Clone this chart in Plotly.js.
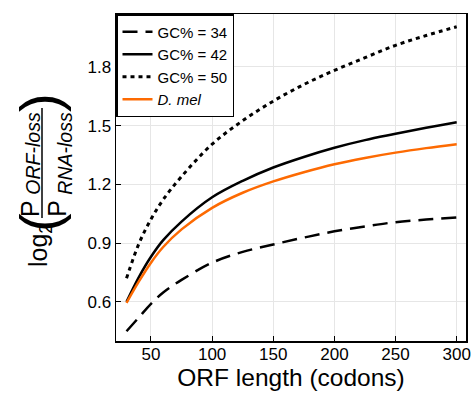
<!DOCTYPE html>
<html>
<head>
<meta charset="utf-8">
<script src="https://cdn.plot.ly/plotly-3.0.1.min.js"></script>
<style>html,body{margin:0;padding:0;background:#fff;}</style>
</head>
<body>
<div id="chart" style="width:474px;height:399px;"></div>
<script>
// ORF length (codons)
const orfLength = [30, 40, 50, 60, 75, 100, 125, 150, 175, 200, 225, 250, 275, 300];
// log2(P_ORF-loss / P_RNA-loss)
const gc34 = [0.45, 0.52, 0.59, 0.648, 0.712, 0.80, 0.855, 0.893, 0.928, 0.96, 0.985, 1.007, 1.02, 1.031];
const gc42 = [0.60, 0.725, 0.83, 0.915, 1.01, 1.134, 1.218, 1.286, 1.34, 1.387, 1.426, 1.458, 1.489, 1.517];
const gc50 = [0.72, 0.895, 1.022, 1.122, 1.24, 1.405, 1.525, 1.625, 1.71, 1.782, 1.847, 1.91, 1.96, 2.005];
const dmel = [0.595, 0.703, 0.80, 0.88, 0.97, 1.08, 1.157, 1.215, 1.262, 1.303, 1.335, 1.362, 1.385, 1.405];
const seriesNames = ['GC% = 34', 'GC% = 42', 'GC% = 50', '<i>D. mel</i>'];
const xTicks = [50, 100, 150, 200, 250, 300];
const yTicks = [0.6, 0.9, 1.2, 1.5, 1.8];

const FONT = 'Liberation Sans, Arial, Helvetica, sans-serif';

const traces = [
  {x: orfLength, y: gc34, name: seriesNames[0], mode: 'lines',
   line: {color: '#000', width: 2.5, dash: '15px,8px', shape: 'spline'}},
  {x: orfLength, y: gc42, name: seriesNames[1], mode: 'lines',
   line: {color: '#000', width: 2.5, shape: 'spline'}},
  {x: orfLength, y: gc50, name: seriesNames[2], mode: 'lines',
   line: {color: '#000', width: 3, dash: '4px,4px', shape: 'spline'}},
  {x: orfLength, y: dmel, name: seriesNames[3], mode: 'lines',
   line: {color: '#fd6a02', width: 2.5, shape: 'spline'}}
];

const L = 116, R = 466, T = 14, B = 341;
const W = R - L, H = B - T;
const px = v => (v - L) / W;
const py = v => (B - v) / H;

function rotText(text, cx, cy, size) {
  return {text: text, xref: 'paper', yref: 'paper', x: px(cx), y: py(cy),
    xanchor: 'center', yanchor: 'middle', textangle: -90, showarrow: false,
    font: {family: FONT, size: size, color: '#000'}};
}

const layout = {
  width: 474, height: 399,
  margin: {l: L, r: 474 - R, t: T, b: 399 - B, pad: 0},
  paper_bgcolor: '#fff', plot_bgcolor: '#fff',
  font: {family: FONT, size: 17, color: '#000'},
  showlegend: true,
  legend: {x: 0, y: 1, xanchor: 'left', yanchor: 'top',
    bgcolor: '#fff', bordercolor: '#000', borderwidth: 1.5,
    font: {family: FONT, size: 15, color: '#000'}, tracegroupgap: 0},
  xaxis: {range: [21.4, 307.6], tickvals: xTicks, ticktext: xTicks.map(String),
    ticks: 'inside', ticklen: 5, tickwidth: 1, tickcolor: '#000', ticklabelstandoff: -3,
    showline: true, linecolor: '#000', linewidth: 1.5, mirror: true,
    showgrid: true, gridcolor: '#e6e6e6', gridwidth: 1, zeroline: false,
    tickfont: {family: FONT, size: 17, color: '#000'},
    title: {text: 'ORF length (codons)', font: {family: FONT, size: 24.5, color: '#000'}, standoff: 3}},
  yaxis: {range: [0.40, 2.07], tickvals: yTicks, ticktext: yTicks.map(v => v.toFixed(1)),
    ticks: 'inside', ticklen: 5, tickwidth: 1, tickcolor: '#000',
    showline: true, linecolor: '#000', linewidth: 1.5, mirror: true,
    showgrid: true, gridcolor: '#e6e6e6', gridwidth: 1, zeroline: false,
    tickfont: {family: FONT, size: 17, color: '#000'}},
  annotations: [
    rotText('log<sub>2</sub>', 40, 246, 25),
    rotText('(', 39, 223, 56),
    rotText(')', 39, 103, 56),
    rotText('P', 29.6, 208.5, 25),
    rotText('<i>ORF-loss</i>', 32.2, 153.5, 19.5),
    rotText('P', 56.3, 208.5, 25),
    rotText('<i>RNA-loss</i>', 64.2, 153.5, 19.5)
  ],
  shapes: [
    {type: 'line', xref: 'paper', yref: 'paper', x0: px(42), x1: px(42), y0: py(108), y1: py(218),
     line: {color: '#000', width: 1.5}}
  ]
};

Plotly.newPlot('chart', traces, layout, {displayModeBar: false, staticPlot: true});
</script>
</body>
</html>
